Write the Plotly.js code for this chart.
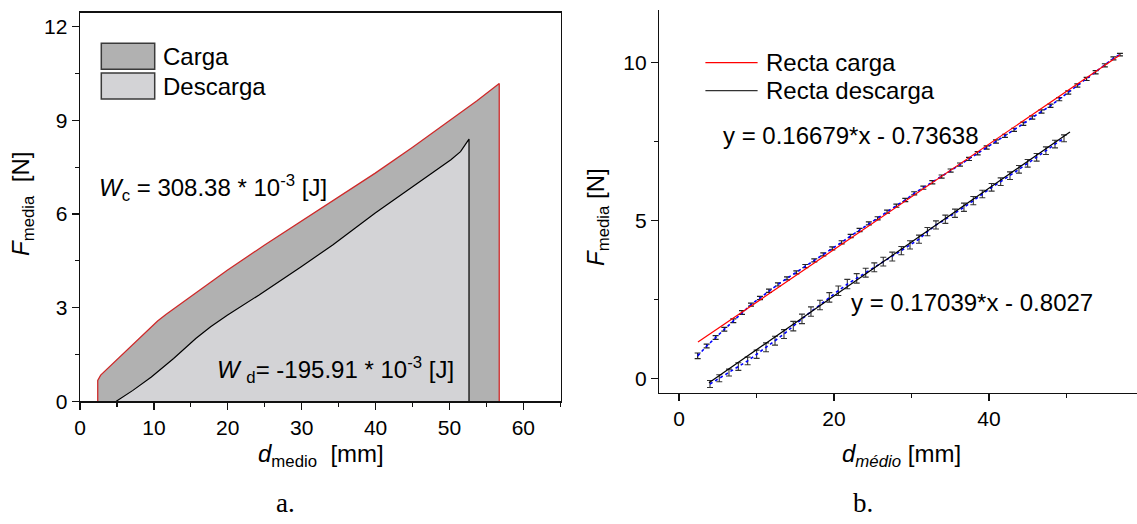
<!DOCTYPE html>
<html>
<head>
<meta charset="utf-8">
<script src="https://cdn.plot.ly/plotly-3.0.1.min.js"></script>
<style>
  html, body { margin: 0; padding: 0; background: #fff; }
  #chart { width: 1137px; height: 524px; }
</style>
</head>
<body>
<div id="chart"></div>
<script>
// ---- Panel a: loading / unloading work areas (force vs. mean displacement) ----
const loadX   = [2.4, 2.4, 2.8, 5.66, 9.16, 10.5, 11.67, 13.5, 15.67, 19.93, 24.94, 29.94, 34.95, 39.96, 44.97, 48.3, 50.0, 53.73, 56.74, 56.74];
const loadY   = [0, 0.67, 0.84, 1.48, 2.28, 2.57, 2.79, 3.10, 3.46, 4.20, 5.00, 5.77, 6.54, 7.31, 8.13, 8.69, 8.99, 9.63, 10.18, 0];
const unloadX = [4.91, 7.16, 9.66, 12.67, 15.67, 17.68, 19.93, 24.19, 29.94, 34.2, 39.96, 44.22, 50.2, 51.5, 52.65, 52.65];
const unloadY = [0, 0.35, 0.78, 1.37, 2.01, 2.39, 2.76, 3.40, 4.31, 5.01, 6.03, 6.75, 7.74, 8.0, 8.4, 0];

// ---- Panel b: averaged measurements with error bars ----
const cargaX = [2.41, 3.57, 4.73, 5.85, 7.01, 8.13, 9.29, 10.45, 11.61, 12.77, 13.94, 15.14, 16.30, 17.46, 18.62,
                19.78, 20.99, 22.15, 23.30, 24.50, 25.63, 26.85, 28.05, 29.20, 30.35, 31.53, 32.69, 33.89, 35.05, 36.26,
                37.42, 38.54, 39.70, 40.90, 42.06, 43.23, 44.43, 45.59, 46.78, 47.94, 49.07, 50.23, 51.40, 52.60, 53.76,
                54.95, 56.06, 56.9];
const cargaY = [0.71, 1.02, 1.29, 1.55, 1.82, 2.08, 2.33, 2.54, 2.77, 2.97, 3.16, 3.35, 3.55, 3.73, 3.92,
                4.11, 4.30, 4.50, 4.69, 4.90, 5.06, 5.27, 5.46, 5.64, 5.85, 6.03, 6.20, 6.38, 6.57, 6.76,
                6.94, 7.12, 7.30, 7.49, 7.67, 7.86, 8.05, 8.25, 8.44, 8.62, 8.83, 9.04, 9.26, 9.47, 9.68,
                9.90, 10.12, 10.24];
const cargaErr = [0.09, 0.06, 0.06, 0.06, 0.06, 0.06, 0.05, 0.05, 0.05, 0.05, 0.05, 0.05, 0.05, 0.05, 0.05,
                  0.05, 0.05, 0.05, 0.05, 0.05, 0.05, 0.05, 0.05, 0.05, 0.05, 0.05, 0.05, 0.05, 0.05, 0.05,
                  0.05, 0.05, 0.05, 0.05, 0.05, 0.05, 0.05, 0.05, 0.05, 0.05, 0.05, 0.05, 0.05, 0.05, 0.05,
                  0.05, 0.05, 0.04];
const descX = [4.00, 5.20, 6.45, 7.66, 8.86, 10.02, 11.23, 12.39, 13.55, 14.75, 15.87, 17.03, 18.19, 19.40, 20.56,
               21.72, 22.93, 24.09, 25.20, 26.36, 27.52, 28.69, 29.81, 30.97, 32.06, 33.16, 34.37, 35.61, 36.77, 37.98,
               39.14, 40.34, 41.51, 42.71, 43.87, 44.99, 46.15, 47.35, 48.52, 49.68];
const descY = [-0.18, 0.00, 0.18, 0.37, 0.55, 0.76, 0.98, 1.19, 1.40, 1.65, 1.88, 2.11, 2.32, 2.56, 2.77,
               2.98, 3.16, 3.34, 3.51, 3.69, 3.85, 4.04, 4.22, 4.40, 4.64, 4.85, 5.03, 5.22, 5.41, 5.62,
               5.83, 6.04, 6.22, 6.41, 6.61, 6.80, 6.99, 7.20, 7.41, 7.59];
const descErr = [0.11, 0.11, 0.11, 0.12, 0.12, 0.13, 0.14, 0.14, 0.14, 0.15, 0.15, 0.15, 0.15, 0.15, 0.15,
                 0.15, 0.15, 0.14, 0.14, 0.14, 0.14, 0.13, 0.13, 0.13, 0.13, 0.13, 0.13, 0.13, 0.13, 0.13,
                 0.12, 0.12, 0.12, 0.12, 0.12, 0.12, 0.12, 0.12, 0.12, 0.11];

// Linear fits: [carga, descarga]
const fitNames     = ['Recta carga', 'Recta descarga'];
const fitSlope     = [0.16679, 0.17039];
const fitIntercept = [0.73638, -0.8027];
const fitXStart    = [2.45, 3.87];
const fitXEnd      = [56.9, 50.45];
const fitLabels    = ['y = 0.16679*x - 0.73638', 'y = 0.17039*x - 0.8027'];
const fitColors    = ['#ff0000', '#000000'];

// ---- page geometry helpers (pixel -> paper fraction) ----
const W = 1137, H = 524;
const fx = p => p / W;
const fy = p => 1 - p / H;

const FONT = '"Liberation Sans", Arial, Helvetica, sans-serif';
const SERIF = '"Liberation Serif", "Times New Roman", serif';
const NB = '\u00a0';
const TXT = 24;

const traces = [
  {
    x: loadX, y: loadY, xaxis: 'x', yaxis: 'y', mode: 'lines', name: 'Carga',
    fill: 'toself', fillcolor: '#b1b1b1',
    line: { color: '#cf2a2a', width: 1.3 }, hoverinfo: 'skip'
  },
  {
    x: unloadX, y: unloadY, xaxis: 'x', yaxis: 'y', mode: 'lines', name: 'Descarga',
    fill: 'toself', fillcolor: '#d3d3d6',
    line: { color: '#000000', width: 1.2 }, hoverinfo: 'skip'
  },
  {
    x: cargaX, y: cargaY, xaxis: 'x2', yaxis: 'y2', mode: 'lines', name: 'carga',
    line: { color: '#0000ff', width: 1.6, dash: 'dot' },
    error_y: { type: 'data', array: cargaErr, color: '#222', thickness: 1.2, width: 3 }
  },
  {
    x: descX, y: descY, xaxis: 'x2', yaxis: 'y2', mode: 'lines', name: 'descarga',
    line: { color: '#0000ff', width: 1.6, dash: 'dot' },
    error_y: { type: 'data', array: descErr, color: '#333', thickness: 1.1, width: 3 }
  }
];

fitNames.forEach((name, i) => {
  const xs = [fitXStart[i], fitXEnd[i]];
  traces.push({
    x: xs, y: xs.map(v => fitSlope[i] * v + fitIntercept[i]),
    xaxis: 'x2', yaxis: 'y2', mode: 'lines', name: name,
    line: { color: fitColors[i], width: 1.2 }
  });
});

const axisCommon = {
  showgrid: false, zeroline: false, showline: true,
  linecolor: '#111', linewidth: 1.4,
  ticks: 'outside', ticklen: 7, tickwidth: 1.3, tickcolor: '#111',
  tickfont: { family: FONT, size: 21, color: '#000' }
};
const minorCommon = { ticks: 'outside', ticklen: 4, tickwidth: 1.3, tickcolor: '#111', showgrid: false };

function note(px, py, text, opts) {
  return Object.assign({
    xref: 'paper', yref: 'paper', x: fx(px), y: fy(py), xanchor: 'left', yanchor: 'middle',
    text: text, showarrow: false, font: { family: FONT, size: TXT, color: '#000' }
  }, opts || {});
}

const layout = {
  width: W, height: H,
  margin: { l: 0, r: 0, t: 0, b: 0 },
  paper_bgcolor: '#ffffff', plot_bgcolor: 'rgba(0,0,0,0)',
  showlegend: false,
  font: { family: FONT, size: 21, color: '#000' },
  xaxis: Object.assign({}, axisCommon, {
    domain: [fx(80), fx(561)], range: [0, 65.1], tick0: 0, dtick: 10,
    mirror: true, anchor: 'y', minor: Object.assign({ dtick: 5 }, minorCommon)
  }),
  yaxis: Object.assign({}, axisCommon, {
    domain: [fy(401.3), fy(12.7)], range: [0, 12.45], tick0: 0, dtick: 3,
    mirror: true, anchor: 'x', minor: Object.assign({ dtick: 1.5 }, minorCommon)
  }),
  xaxis2: Object.assign({}, axisCommon, {
    domain: [fx(659.3), 1], range: [-2.54, 59.1], tick0: 0, dtick: 20,
    anchor: 'y2', minor: Object.assign({ dtick: 10 }, minorCommon)
  }),
  yaxis2: Object.assign({}, axisCommon, {
    domain: [fy(392.7), fy(10)], range: [-0.456, 11.65], tick0: 0, dtick: 5,
    anchor: 'x2', minor: Object.assign({ dtick: 2.5 }, minorCommon)
  }),
  shapes: [
    // legend swatches, panel a
    { type: 'rect', xref: 'paper', yref: 'paper', x0: fx(101.3), x1: fx(154.7), y0: fy(69.3), y1: fy(43.3),
      fillcolor: '#b1b1b1', line: { color: '#3a3a3a', width: 1.5 } },
    { type: 'rect', xref: 'paper', yref: 'paper', x0: fx(101.3), x1: fx(154.7), y0: fy(99), y1: fy(73),
      fillcolor: '#d3d3d6', line: { color: '#3a3a3a', width: 1.5 } },
    // legend line samples, panel b
    { type: 'line', xref: 'paper', yref: 'paper', x0: fx(705.4), x1: fx(757.6), y0: fy(62.7), y1: fy(62.7),
      line: { color: fitColors[0], width: 1.2 } },
    { type: 'line', xref: 'paper', yref: 'paper', x0: fx(705.4), x1: fx(757.6), y0: fy(90.7), y1: fy(90.7),
      line: { color: '#333', width: 1.2 } }
  ],
  annotations: [
    // legend texts
    note(160.5, 56.5, 'Carga'),
    note(160.5, 86, 'Descarga'),
    note(764, 62.7, fitNames[0]),
    note(764, 90.7, fitNames[1]),
    // work values, panel a
    note(97, 188, '<i>W</i><sub>c</sub> = 308.38 * 10<sup>-3</sup> [J]'),
    note(215, 370, '<i>W</i>' + NB + '<sub>d</sub>= -195.91 * 10<sup>-3</sup> [J]'),
    // fit equations, panel b
    note(721, 135, fitLabels[0]),
    note(849, 302.7, fitLabels[1]),
    // axis titles
    note(321, 455, '<i>d</i><sub>medio</sub>' + NB + NB + '[mm]', { xanchor: 'center' }),
    note(22, 204, '<i>F</i><sub>media</sub>' + NB + NB + '[N]', { xanchor: 'center', textangle: -90 }),
    note(901, 455, '<i>d</i><sub><i>médio</i></sub> [mm]', { xanchor: 'center' }),
    note(597, 217, '<i>F</i><sub>media</sub> [N]', { xanchor: 'center', textangle: -90 }),
    // panel captions
    note(285, 503, 'a.', { xanchor: 'center', font: { family: SERIF, size: 27, color: '#000' } }),
    note(863, 503, 'b.', { xanchor: 'center', font: { family: SERIF, size: 27, color: '#000' } })
  ]
};

Plotly.newPlot('chart', traces, layout, { displayModeBar: false, staticPlot: true });
</script>
</body>
</html>
